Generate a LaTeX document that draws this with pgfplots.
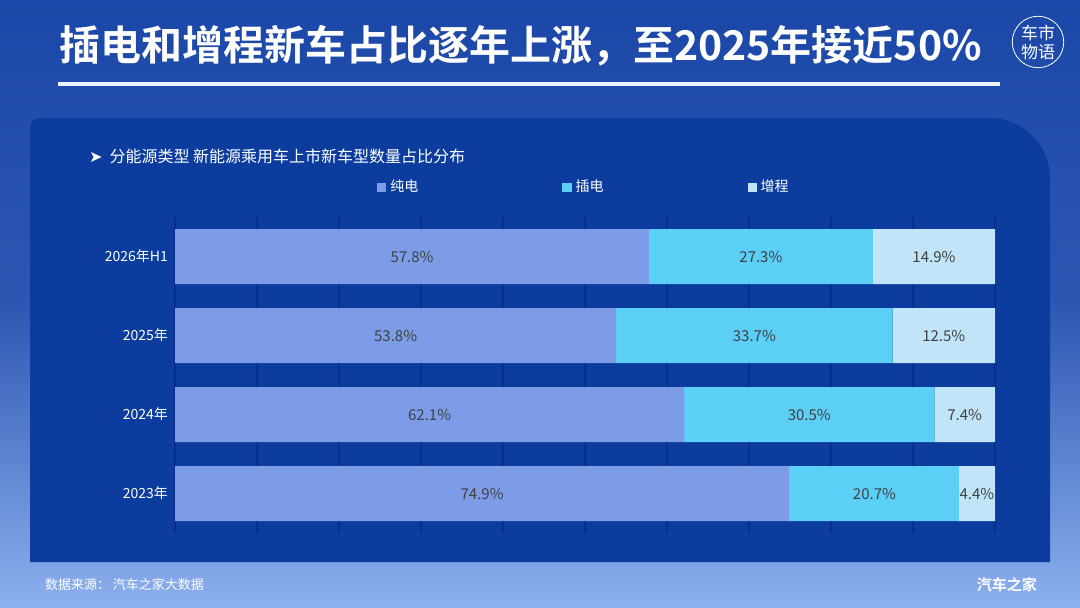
\documentclass[border=0pt]{standalone}
\usepackage{pgfplots}
\pgfplotsset{compat=1.18}
\usepackage{fontspec}
\setmainfont{Noto Sans CJK SC}[BoldFont={Noto Sans CJK SC Bold}]
\newfontfamily\dejavu{DejaVu Sans}
\definecolor{bgtop}{HTML}{1B47A8}
\definecolor{bgbot}{HTML}{8DB0EE}
\definecolor{panel}{HTML}{0B3C9E}
\definecolor{cA}{HTML}{7C9CE8}
\definecolor{cB}{HTML}{5BCFF6}
\definecolor{cC}{HTML}{C2E4F8}
\definecolor{gridc}{HTML}{062F86}
\begin{document}
\begin{tikzpicture}
\begin{scope}[x=0.5pt,y=-0.5pt]
\shade[top color=bgtop,bottom color=bgbot,middle color=bgtop!85!bgbot] (0,0) rectangle (1080,608);
\node[anchor=west,text=white,font=\bfseries\fontsize{20.5}{24}\selectfont] at (52,46) {插电和增程新车占比逐年上涨，至2025年接近50\%};
\fill[white!85!bgbot] (58,82) rectangle (1000,86);
\node[text=white,font=\fontsize{8.5}{9.5}\selectfont,draw=white,circle,inner sep=0.5pt,align=center] at (1038,42) {车市\\物语};
\fill[panel] (30,562) -- (30,128) to[out=90,in=180] (40,118) -- (990,118) to[out=0,in=90] (1050,178) -- (1050,562) -- cycle;
\node[anchor=west,text=white,font=\fontsize{8}{10}\selectfont] at (82,156) {{\dejavu ➤}\ \ 分能源类型 新能源乘用车上市新车型数量占比分布};
\node[anchor=west,text=white,font=\fontsize{6.5}{8}\selectfont] at (38,585) {数据来源：\ 汽车之家大数据};
\node[anchor=east,text=white,font=\bfseries\fontsize{7.5}{9}\selectfont] at (1044,585) {汽车之家};
\end{scope}
\begin{axis}[at={(87.5pt,-266.5pt)},anchor=south west,scale only axis,
 width=410pt,height=158pt,xbar stacked,bar width=27.5pt,
 xmin=0,xmax=100,ymin=-0.5,ymax=3.5,
 axis line style={draw=none},
 xtick={0,10,...,100},xticklabels={},major tick length=0pt,tick style={draw=none},
 xmajorgrids,grid style={gridc,line width=1.2pt},
 ytick={0,1,2,3},yticklabels={2023年,2024年,2025年,2026年H1},
 yticklabel style={text=white,font=\fontsize{7}{8}\selectfont},
 legend style={at={(0.5,1.0)},anchor=south,yshift=7pt,draw=none,fill=none,text=white,font=\fontsize{7}{8}\selectfont,/tikz/every even column/.append style={column sep=70pt}},
 legend columns=3,legend image code/.code={\fill[#1] (0,-0.08cm) rectangle (0.16cm,0.08cm);}]
\addplot[fill=cA,draw=none] coordinates {(74.9,0) (62.1,1) (53.8,2) (57.8,3)};
\addplot[fill=cB,draw=none] coordinates {(20.7,0) (30.5,1) (33.7,2) (27.3,3)};
\addplot[fill=cC,draw=none] coordinates {(4.4,0) (7.4,1) (12.5,2) (14.9,3)};
\legend{纯电,插电,增程}
\end{axis}
\begin{axis}[at={(87.5pt,-266.5pt)},anchor=south west,scale only axis,
 width=410pt,height=158pt,xmin=0,xmax=100,ymin=-0.5,ymax=3.5,hide axis,
 nodes near coords,point meta=explicit symbolic,
 every node near coord/.append style={anchor=center,text=black!75,font=\fontsize{7.5}{9}\selectfont}]
\addplot[only marks,mark=none] table[meta=l] {
x y l
37.45 0 74.9\%
85.3 0 20.7\%
97.8 0 4.4\%
31.05 1 62.1\%
77.35 1 30.5\%
96.3 1 7.4\%
26.9 2 53.8\%
70.65 2 33.7\%
93.75 2 12.5\%
28.9 3 57.8\%
71.45 3 27.3\%
92.55 3 14.9\%
};
\end{axis}
\end{tikzpicture}
\end{document}
